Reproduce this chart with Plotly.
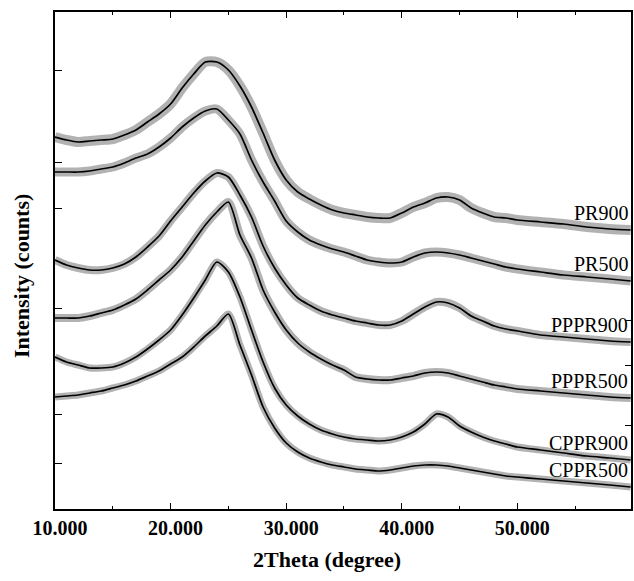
import plotly.graph_objects as go

# 2-theta sampling (degree)
two_theta = [10, 11, 12, 13, 14, 15, 16, 17, 18, 19, 20, 21, 22, 23, 24, 25, 26, 27, 28, 29,
             30, 31, 32, 33, 34, 35, 36, 37, 38, 39, 40, 41, 42, 43, 44, 45, 46, 47, 48, 49,
             50, 52, 54, 56, 58, 59.8]

# stacked intensities (arbitrary counts, offset per sample)
pr900 = [372, 369, 367, 368, 369, 370, 374, 379, 387, 395, 405, 421, 435, 447, 447, 439, 423, 402, 376, 349,
         329, 317, 310, 304, 299, 296, 294, 292, 291, 291, 296, 302, 306, 311, 312, 309, 301, 296, 292, 291,
         289, 287, 285, 282, 280, 279]
pr500 = [337, 337, 337, 338, 340, 342, 346, 351, 355, 362, 371, 382, 391, 398, 400, 389, 375, 349, 327, 308,
         288, 277, 269, 264, 260, 257, 253, 249, 247, 246, 247, 252, 256, 257, 256, 254, 251, 248, 245, 242,
         240, 237, 234, 232, 230, 228]
pppr900 = [249, 244, 241, 239, 239, 241, 245, 252, 262, 273, 288, 302, 316, 328, 336, 332, 314, 292, 263, 241,
           224, 211, 204, 198, 194, 191, 188, 186, 184, 184, 188, 195, 202, 207, 206, 201, 193, 188, 183, 180,
           178, 174, 172, 170, 168, 167]
pppr500 = [191, 191, 191, 193, 196, 199, 204, 210, 219, 229, 239, 252, 268, 284, 297, 307, 274, 251, 219, 197,
           179, 166, 157, 150, 144, 139, 132, 130, 129, 129, 131, 133, 136, 137, 136, 133, 130, 127, 124, 122,
           120, 118, 116, 114, 112, 111]
cppr900 = [152, 147, 144, 141, 141, 142, 146, 152, 160, 169, 179, 194, 211, 229, 247, 237, 212, 179, 147, 121,
           104, 93, 85, 79, 75, 72, 70, 69, 68, 69, 72, 77, 85, 95, 92, 83, 77, 72, 68, 65,
           62, 59, 56, 53, 51, 49]
cppr500 = [112, 113, 114, 116, 118, 121, 124, 128, 133, 138, 145, 152, 162, 173, 183, 195, 164, 134, 102, 81,
           66, 57, 51, 47, 44, 42, 40, 39, 38, 39, 41, 43, 44, 44, 43, 41, 39, 37, 35, 33,
           32, 30, 28, 26, 24, 22]

series_names = ["PR900", "PR500", "PPPR900", "PPPR500", "CPPR900", "CPPR500"]
series_values = [pr900, pr500, pppr900, pppr500, cppr900, cppr500]

x_tick_vals = [10, 20, 30, 40, 50]
x_tick_text = ["10.000", "20.000", "30.000", "40.000", "50.000"]
left_tick_vals = [439, 347, 301, 201, 95, 46]
right_tick_vals = [189, 144, 84]

SERIF = "Liberation Serif"
band_widths = [10, 9, 8, 8, 7, 7]

fig = go.Figure()
for name, vals, bw in zip(series_names, series_values, band_widths):
    # soft band imitating the measurement noise (drawn on the mirrored right axis)
    fig.add_trace(go.Scatter(x=two_theta, y=vals, mode="lines", name=name + " band", yaxis="y2",
                             line=dict(color="rgba(0,0,0,0.3)", width=bw, shape="spline", smoothing=0.7),
                             showlegend=False, hoverinfo="skip"))
    fig.add_trace(go.Scatter(x=two_theta, y=vals, mode="lines", name=name,
                             line=dict(color="black", width=1.7, shape="spline", smoothing=0.7),
                             showlegend=False))
    fig.add_annotation(x=59.72, y=vals[-1], xref="x", yref="y", text=name, showarrow=False,
                       xanchor="right", yanchor="middle", yshift=17,
                       font=dict(family=SERIF, size=20, color="black"))

fig.add_annotation(text="2Theta (degree)", xref="paper", yref="paper", x=0.472, y=-0.1026,
                   showarrow=False, xanchor="center", yanchor="middle",
                   font=dict(family=SERIF, size=22, color="black", weight="bold"))
fig.add_annotation(text="Intensity (counts)", xref="paper", yref="paper", x=-0.057, y=0.469,
                   showarrow=False, textangle=-90, xanchor="center", yanchor="middle",
                   font=dict(family=SERIF, size=22, color="black", weight="bold"))

fig.update_layout(
    width=634, height=581,
    margin=dict(l=55, r=1, t=12, b=72),
    paper_bgcolor="white", plot_bgcolor="white",
    showlegend=False,
    xaxis=dict(range=[10, 59.83], showline=True, linecolor="black", linewidth=1.6, mirror="ticks",
               ticks="inside", ticklen=6, tickwidth=1.2, tickcolor="black",
               tickvals=x_tick_vals, ticktext=x_tick_text, ticklabelshift=5,
               tickfont=dict(family=SERIF, size=20, color="black", weight="bold"),
               minor=dict(ticks="inside", ticklen=3, tickwidth=1, tickcolor="black", dtick=5, tick0=0,
                          showgrid=False),
               showgrid=False, zeroline=False),
    yaxis=dict(range=[0, 497], showline=True, linecolor="black", linewidth=1.8, mirror=True,
               ticks="inside", ticklen=7, tickwidth=1.2, tickcolor="black",
               tickvals=left_tick_vals, showticklabels=False, showgrid=False, zeroline=False),
    yaxis2=dict(range=[0, 497], overlaying="y", side="right", showline=False,
                ticks="inside", ticklen=6, tickwidth=1.2, tickcolor="black",
                tickvals=right_tick_vals, showticklabels=False, showgrid=False, zeroline=False),
)

fig.write_html("out.html")
